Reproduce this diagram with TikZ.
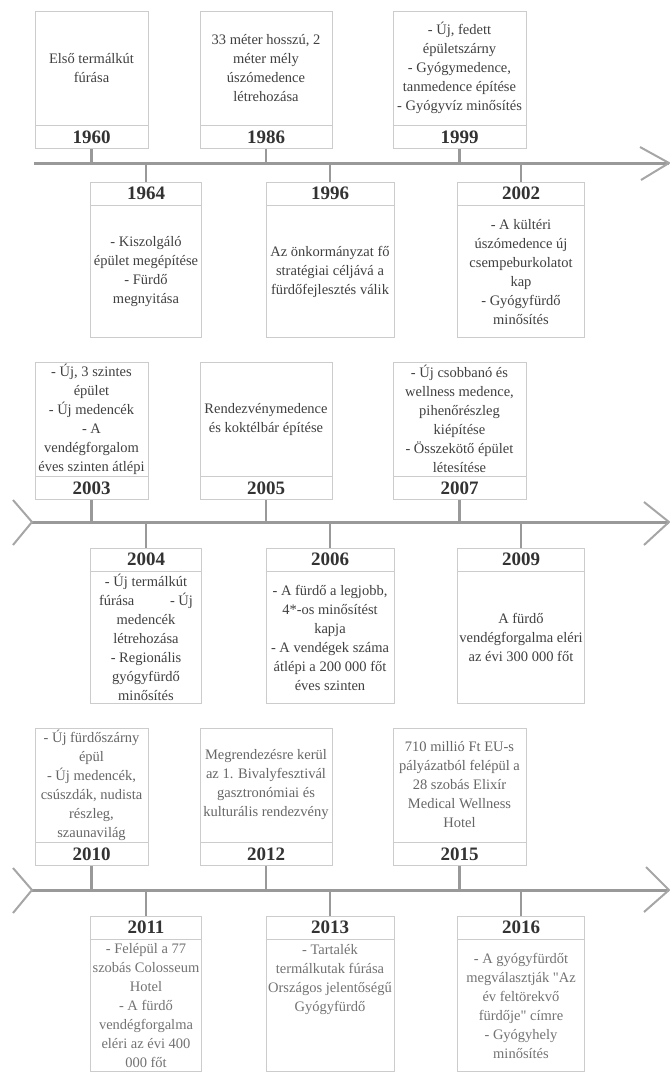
\documentclass[tikz,border=0pt]{standalone}
\usepackage{fontspec}
\setmainfont{Liberation Serif}
\newfontfamily\timesfont{Liberation Serif}
\usetikzlibrary{positioning}

\tikzset{
  body/.style={draw=black!20, line width=0.6pt, fill=white, align=center, inner sep=0pt,
    text=black!75, font=\timesfont\fontsize{14.5}{19}\selectfont},
  yearbox/.style={draw=black!20, line width=0.6pt, fill=white, inner sep=0pt,
    minimum height=23pt, text=black!80, font=\timesfont\fontsize{19}{22}\selectfont\bfseries},
  axis/.style={draw=black!40, line width=3pt},
  tick/.style={draw=black!40, line width=2.5pt},
  chev/.style={draw=black!35, line width=2pt},
}

\begin{document}
\begin{tikzpicture}[x=1pt,y=-1pt]
   \useasboundingbox (0,0) rectangle (669,1073);

   % first row: 1960 - 2002
   \coordinate (l1a) at (34,163);
   \coordinate (l1b) at (669,163);
   \draw[axis] (l1a) -- (l1b);
   \draw[chev] (640,147) -- (l1b) -- (641,180);

   \node[body, minimum width=113pt, minimum height=114pt] (b1960) at (91.5,68) {Első termálkút\\fúrása};
   \node[yearbox, minimum width=113pt, below=0pt of b1960] (y1960) {1960};
   \node[body, minimum width=132pt, minimum height=114pt] (b1986) at (266,68) {33 méter hosszú, 2\\méter mély\\úszómedence\\létrehozása};
   \node[yearbox, minimum width=132pt, below=0pt of b1986] (y1986) {1986};
   \node[body, minimum width=133pt, minimum height=114pt] (b1999) at (459.5,68) {- Új, fedett\\épületszárny\\- Gyógymedence,\\tanmedence építése\\- Gyógyvíz minősítés};
   \node[yearbox, minimum width=133pt, below=0pt of b1999] (y1999) {1999};

   \node[yearbox, minimum width=111pt] (y1964) at (146,193.5) {1964};
   \node[body, minimum width=111pt, minimum height=132pt, below=0pt of y1964] (b1964) {- Kiszolgáló\\épület megépítése\\- Fürdő\\megnyitása};
   \node[yearbox, minimum width=128pt] (y1996) at (330,193.5) {1996};
   \node[body, minimum width=128pt, minimum height=132pt, below=0pt of y1996] (b1996) {Az önkormányzat fő\\stratégiai céljává a\\fürdőfejlesztés válik};
   \node[yearbox, minimum width=127pt] (y2002) at (521,193.5) {2002};
   \node[body, minimum width=127pt, minimum height=132pt, below=0pt of y2002] (b2002) {- A kültéri\\úszómedence új\\csempeburkolatot\\kap\\- Gyógyfürdő\\minősítés};

   \draw[tick] (y1960.south) -- (y1960.south |- l1a);
   \draw[tick] (y1986.south) -- (y1986.south |- l1a);
   \draw[tick] (y1999.south) -- (y1999.south |- l1a);
   \draw[tick] (y1964.north) -- (y1964.north |- l1a);
   \draw[tick] (y1996.north) -- (y1996.north |- l1a);
   \draw[tick] (y2002.north) -- (y2002.north |- l1a);

   % second row: 2003 - 2009
   \coordinate (l2a) at (32,522);
   \coordinate (l2b) at (669,522);
   \draw[axis] (l2a) -- (l2b);
   \draw[chev] (13,500) -- (l2a) -- (13,545);
   \draw[chev] (644,502) -- (l2b) -- (644,545);

   \node[body, minimum width=113pt, minimum height=114pt] (b2003) at (91.5,419) {- Új, 3 szintes\\épület\\- Új medencék\\- A\\vendégforgalom\\éves szinten átlépi};
   \node[yearbox, minimum width=113pt, below=0pt of b2003] (y2003) {2003};
   \node[body, minimum width=132pt, minimum height=114pt] (b2005) at (266,419) {Rendezvénymedence\\és koktélbár építése};
   \node[yearbox, minimum width=132pt, below=0pt of b2005] (y2005) {2005};
   \node[body, minimum width=133pt, minimum height=114pt] (b2007) at (459.5,419) {- Új csobbanó és\\wellness medence,\\pihenőrészleg\\kiépítése\\- Összekötő épület\\létesítése};
   \node[yearbox, minimum width=133pt, below=0pt of b2007] (y2007) {2007};

   \node[yearbox, minimum width=111pt] (y2004) at (146,559.5) {2004};
   \node[body, minimum width=111pt, minimum height=132pt, below=0pt of y2004] (b2004) {- Új termálkút\\\makebox[94pt]{fúrása\hfill - Új}\\medencék\\létrehozása\\- Regionális\\gyógyfürdő\\minősítés};
   \node[yearbox, minimum width=128pt] (y2006) at (330,559.5) {2006};
   \node[body, minimum width=128pt, minimum height=132pt, below=0pt of y2006] (b2006) {- A fürdő a legjobb,\\4*-os minősítést\\kapja\\- A vendégek száma\\átlépi a 200 000 főt\\éves szinten};
   \node[yearbox, minimum width=127pt] (y2009) at (521,559.5) {2009};
   \node[body, minimum width=127pt, minimum height=132pt, below=0pt of y2009] (b2009) {A fürdő\\vendégforgalma eléri\\az évi 300 000 főt};

   \draw[tick] (y2003.south) -- (y2003.south |- l2a);
   \draw[tick] (y2005.south) -- (y2005.south |- l2a);
   \draw[tick] (y2007.south) -- (y2007.south |- l2a);
   \draw[tick] (y2004.north) -- (y2004.north |- l2a);
   \draw[tick] (y2006.north) -- (y2006.north |- l2a);
   \draw[tick] (y2009.north) -- (y2009.north |- l2a);

   % third row: 2010 - 2016
   \coordinate (l3a) at (32,890);
   \coordinate (l3b) at (669,890);
   \draw[axis] (l3a) -- (l3b);
   \draw[chev] (13,868) -- (l3a) -- (13,913);
   \draw[chev] (646,867) -- (l3b) -- (644,912);

   \node[body, text=black!60, minimum width=113pt, minimum height=114pt] (b2010) at (91.5,785) {- Új fürdőszárny\\épül\\- Új medencék,\\csúszdák, nudista\\részleg,\\szaunavilág};
   \node[yearbox, minimum width=113pt, below=0pt of b2010] (y2010) {2010};
   \node[body, text=black!60, minimum width=132pt, minimum height=114pt] (b2012) at (266,785) {Megrendezésre kerül\\az 1. Bivalyfesztivál\\gasztronómiai és\\kulturális rendezvény};
   \node[yearbox, minimum width=132pt, below=0pt of b2012] (y2012) {2012};
   \node[body, text=black!60, minimum width=133pt, minimum height=114pt] (b2015) at (459.5,785) {710 millió Ft EU-s\\pályázatból felépül a\\28 szobás Elixír\\Medical Wellness\\Hotel};
   \node[yearbox, minimum width=133pt, below=0pt of b2015] (y2015) {2015};

   \node[yearbox, minimum width=111pt] (y2011) at (146,927.5) {2011};
   \node[body, text=black!55, minimum width=111pt, minimum height=132pt, below=0pt of y2011] (b2011) {- Felépül a 77\\szobás Colosseum\\Hotel\\- A fürdő\\vendégforgalma\\eléri az évi 400\\000 főt};
   \node[yearbox, minimum width=128pt] (y2013) at (330,927.5) {2013};
   \node[body, text=black!55, minimum width=128pt, minimum height=132pt, below=0pt of y2013] (b2013) {- Tartalék\\termálkutak fúrása\\Országos jelentőségű\\Gyógyfürdő\\[37pt]\mbox{}};
   \node[yearbox, minimum width=127pt] (y2016) at (521,927.5) {2016};
   \node[body, text=black!55, minimum width=127pt, minimum height=132pt, below=0pt of y2016] (b2016) {- A gyógyfürdőt\\megválasztják \symbol{34}Az\\év feltörekvő\\fürdője\symbol{34} címre\\- Gyógyhely\\minősítés};

   \draw[tick] (y2010.south) -- (y2010.south |- l3a);
   \draw[tick] (y2012.south) -- (y2012.south |- l3a);
   \draw[tick] (y2015.south) -- (y2015.south |- l3a);
   \draw[tick] (y2011.north) -- (y2011.north |- l3a);
   \draw[tick] (y2013.north) -- (y2013.north |- l3a);
   \draw[tick] (y2016.north) -- (y2016.north |- l3a);
\end{tikzpicture}
\end{document}
